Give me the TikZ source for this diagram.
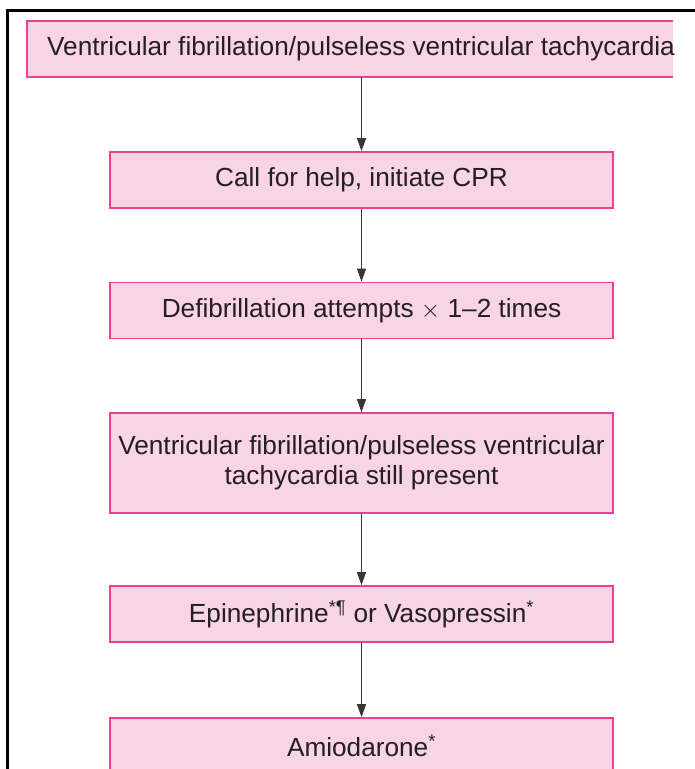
\documentclass[tikz,border=0pt]{standalone}
\usepackage{fontspec}
\setmainfont{Liberation Sans}
\usetikzlibrary{arrows.meta}
\definecolor{pinkfill}{RGB}{249,212,228}
\definecolor{pinkline}{RGB}{236,64,150}
\definecolor{inkc}{RGB}{35,31,32}
\begin{document}
\begin{tikzpicture}[x=1pt,y=-1pt,
  stepbox/.style={draw=pinkline, line width=1.8pt, fill=pinkfill, minimum width=503pt, minimum height=56pt, inner sep=0pt, align=center, text=inkc, font=\fontsize{26.2}{30}\selectfont},
  conn/.style={draw=inkc!90, line width=1.3pt, -{Triangle[length=13pt,width=9pt]}}]
\clip (0,0) rectangle (695,769);
\draw[line width=3pt] (7,780) -- (7,10) -- (700,10);
% top box (cut on the right)
\node[fill=pinkfill, minimum width=646pt, minimum height=56pt, inner sep=0pt] (top) at (350,49) {};
\draw[pinkline, line width=1.8pt] (top.north east) -- (top.north west) -- (top.south west) -- (top.south east);
\node[anchor=west, inner sep=0pt, text=inkc, font=\fontsize{26.2}{30}\selectfont] (toptext) at (47,49) {Ventricular fibrillation/pulseless ventricular tachycardia};
\node[stepbox] (b2) at (361.5,180) {Call for help, initiate CPR};
\node[stepbox] (b3) at (361.5,310.5) {Defibrillation attempts $\times$ 1–2 times};
\node[stepbox, minimum height=100pt] (b4) at (361.5,463) {Ventricular fibrillation/pulseless ventricular\\tachycardia still present};
\node[stepbox] (b5) at (361.5,614) {Epinephrine\textsuperscript{*¶} or Vasopressin\textsuperscript{*}};
\node[stepbox] (b6) at (361.5,746) {Amiodarone\textsuperscript{*}};
\path[conn] (top.south -| b2.north) -- (b2.north);
\path[conn] (b2.south) -- (b3.north);
\path[conn] (b3.south) -- (b4.north);
\path[conn] (b4.south) -- (b5.north);
\path[conn] (b5.south) -- (b6.north);
\end{tikzpicture}
\end{document}
